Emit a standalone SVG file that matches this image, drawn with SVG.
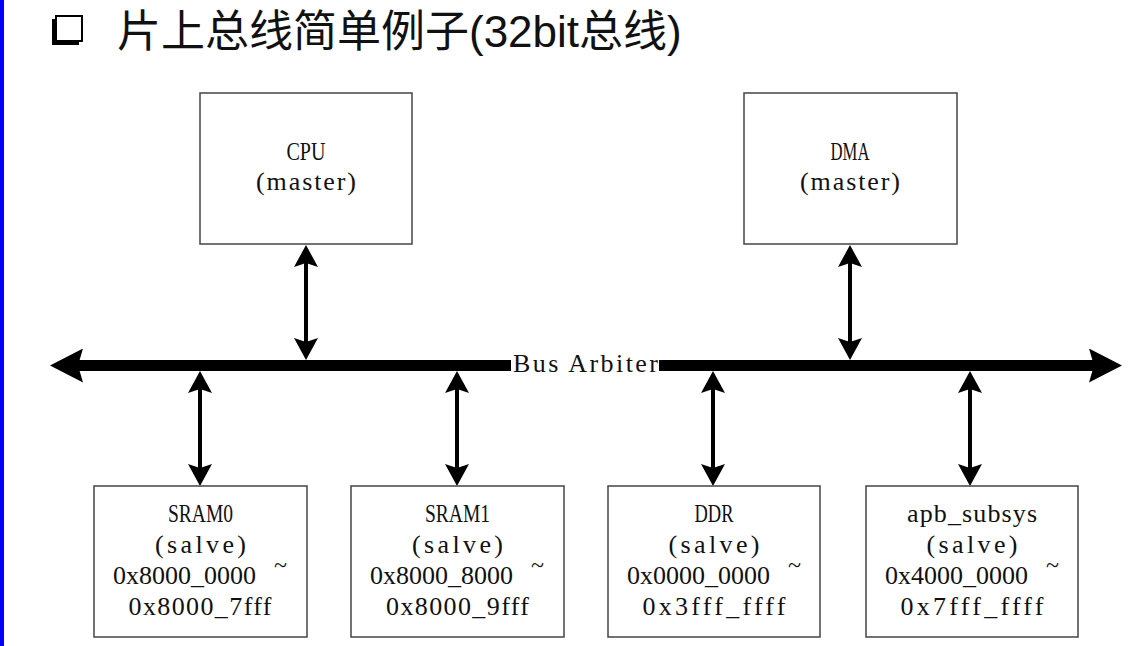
<svg xmlns="http://www.w3.org/2000/svg" width="1142" height="646" viewBox="0 0 1142 646">
<style>
.box{fill:#fff;stroke:#444;stroke-width:1.5}
.t{font-family:"Liberation Serif","DejaVu Serif",serif;font-size:26px;fill:#111}
.tl{font-family:"Liberation Serif","DejaVu Serif",serif;font-size:24px;fill:#111}
.title{font-family:"Liberation Sans","Noto Sans CJK SC",sans-serif;font-size:44px;fill:#111}
.va{fill:none;stroke:#000;stroke-width:4;marker-start:url(#ah);marker-end:url(#ah)}
.bus{fill:none;stroke:#000;stroke-width:11}
</style>
<defs>
<marker id="ah" viewBox="0 0 22 24" refX="8" refY="12" markerWidth="22" markerHeight="24" markerUnits="userSpaceOnUse" orient="auto-start-reverse">
<path d="M0,0 L22,12 L0,24 L4,12 z" fill="#000"/>
</marker>
<marker id="bh" viewBox="0 0 33 34" refX="10" refY="17" markerWidth="33" markerHeight="34" markerUnits="userSpaceOnUse" orient="auto-start-reverse">
<path d="M0,0 L33,17 L0,34 L5,17 z" fill="#000"/>
</marker>
</defs>
<rect x="0" y="0" width="1142" height="646" fill="#fff"/>
<rect x="0" y="0" width="4" height="646" fill="#0000ff"/>
<g id="title">
<rect x="52" y="19" width="27" height="26" fill="#000"/>
<rect x="56" y="16" width="26" height="25" fill="#fff" stroke="#000" stroke-width="2"/>
<text class="title" x="117" y="47">片上总线简单例子(32bit总线)</text>
</g>
<g id="connectors">
<path class="bus" d="M73,365.5 H511" marker-start="url(#bh)"/>
<path class="bus" d="M659,365.5 H1099" marker-end="url(#bh)"/>
<path class="va" d="M306,259 V346"/>
<path class="va" d="M850,259 V346"/>
<path class="va" d="M200,385 V472"/>
<path class="va" d="M457,385 V472"/>
<path class="va" d="M713,385 V472"/>
<path class="va" d="M970,385 V472"/>
<text class="t" x="513" y="372" textLength="145" lengthAdjust="spacing">Bus Arbiter</text>
</g>
<g id="cpu">
<rect class="box" x="200" y="93" width="212" height="151"/>
<text class="t" x="286.5" y="160" textLength="39" lengthAdjust="spacingAndGlyphs">CPU</text>
<text class="t" x="256" y="190" textLength="100" lengthAdjust="spacing">(master)</text>
</g>
<g id="dma">
<rect class="box" x="744" y="93" width="213" height="151"/>
<text class="t" x="830.5" y="160" textLength="39" lengthAdjust="spacingAndGlyphs">DMA</text>
<text class="t" x="800" y="190" textLength="100" lengthAdjust="spacing">(master)</text>
</g>
<g id="sram0">
<rect class="box" x="94" y="486" width="213" height="151"/>
<text class="t" x="168" y="522" textLength="65" lengthAdjust="spacingAndGlyphs">SRAM0</text>
<text class="t" x="155" y="553" textLength="91" lengthAdjust="spacing">(salve)</text>
<text class="t" x="113" y="584" textLength="143" lengthAdjust="spacing">0x8000_0000</text>
<text class="tl" x="274" y="573">~</text>
<text class="t" x="128.5" y="615" textLength="143" lengthAdjust="spacing">0x8000_7fff</text>
</g>
<g id="sram1">
<rect class="box" x="351" y="486" width="213" height="151"/>
<text class="t" x="425" y="522" textLength="65" lengthAdjust="spacingAndGlyphs">SRAM1</text>
<text class="t" x="412" y="553" textLength="91" lengthAdjust="spacing">(salve)</text>
<text class="t" x="370" y="584" textLength="143" lengthAdjust="spacing">0x8000_8000</text>
<text class="tl" x="531" y="573">~</text>
<text class="t" x="386" y="615" textLength="143" lengthAdjust="spacing">0x8000_9fff</text>
</g>
<g id="ddr">
<rect class="box" x="608" y="486" width="212" height="151"/>
<text class="t" x="694.5" y="522" textLength="39" lengthAdjust="spacingAndGlyphs">DDR</text>
<text class="t" x="668.5" y="553" textLength="91" lengthAdjust="spacing">(salve)</text>
<text class="t" x="627" y="584" textLength="143" lengthAdjust="spacing">0x0000_0000</text>
<text class="tl" x="788" y="573">~</text>
<text class="t" x="642.5" y="615" textLength="143" lengthAdjust="spacing">0x3fff_ffff</text>
</g>
<g id="apb_subsys">
<rect class="box" x="866" y="486" width="212" height="151"/>
<text class="t" x="907" y="522" textLength="130" lengthAdjust="spacing">apb_subsys</text>
<text class="t" x="926.5" y="553" textLength="91" lengthAdjust="spacing">(salve)</text>
<text class="t" x="885" y="584" textLength="143" lengthAdjust="spacing">0x4000_0000</text>
<text class="tl" x="1046" y="573">~</text>
<text class="t" x="900.5" y="615" textLength="143" lengthAdjust="spacing">0x7fff_ffff</text>
</g>
</svg>
